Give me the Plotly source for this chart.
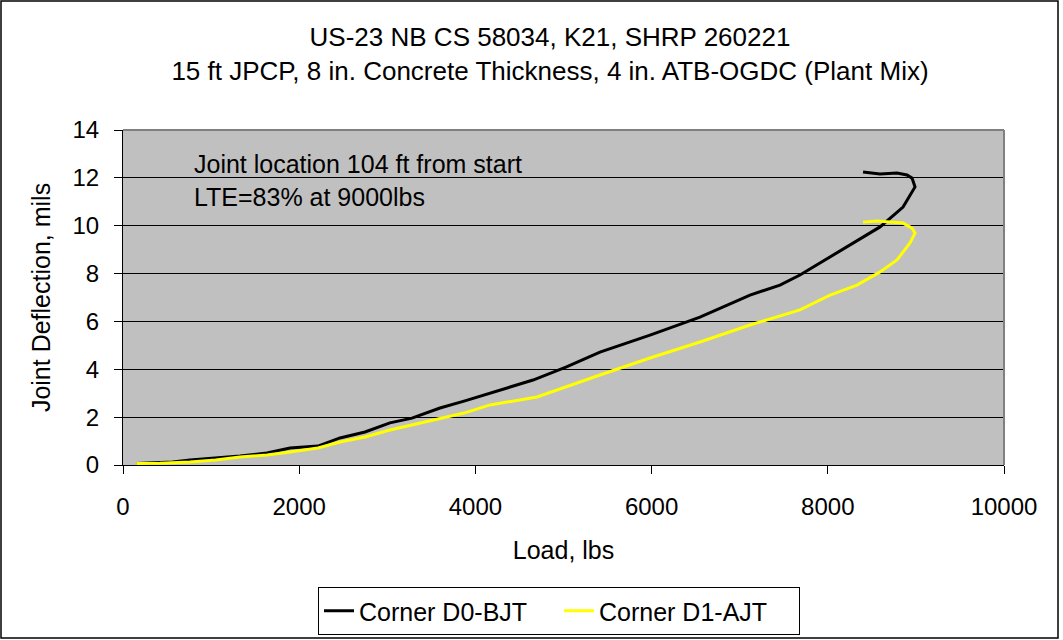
import plotly.graph_objects as go

load_d0 = [150, 420, 564, 760, 1050, 1328, 1634, 1896, 2213, 2463, 2747, 3030, 3280, 3598,
           3871, 4166, 4279, 4654, 5034, 5414, 5982, 6549, 7117, 7457, 7684, 7832, 8218,
           8593, 8854, 8956, 8990, 8956, 8899, 8785, 8593, 8400]
defl_d0 = [0.06, 0.10, 0.13, 0.21, 0.29, 0.38, 0.50, 0.71, 0.79, 1.13, 1.38, 1.76, 1.96, 2.38,
           2.67, 3.01, 3.13, 3.55, 4.10, 4.72, 5.43, 6.18, 7.10, 7.52, 7.94, 8.27, 9.11,
           9.95, 10.78, 11.37, 11.62, 11.99, 12.12, 12.20, 12.16, 12.24]

load_d1 = [150, 420, 760, 1050, 1328, 1634, 1896, 2213, 2463, 2747, 3030, 3280, 3598, 3871,
           4166, 4699, 5414, 5982, 6549, 7117, 7684, 8025, 8331, 8593, 8785, 8933, 8990,
           8956, 8854, 8706, 8558, 8400]
defl_d1 = [0.06, 0.07, 0.13, 0.21, 0.33, 0.42, 0.54, 0.71, 0.96, 1.17, 1.46, 1.67, 1.92, 2.17,
           2.51, 2.84, 3.76, 4.47, 5.14, 5.85, 6.48, 7.10, 7.52, 8.07, 8.57, 9.28, 9.69,
           9.90, 10.11, 10.15, 10.20, 10.15]

x_ticks = [0, 2000, 4000, 6000, 8000, 10000]
y_ticks = [0, 2, 4, 6, 8, 10, 12, 14]

FONT = "Arial, Liberation Sans, sans-serif"
W, H = 1063, 640
ML, MR, MT, MB = 123, 59, 130, 175
pw, ph = W - ML - MR, H - MT - MB


def px_x(x):
    return (x - ML) / pw


def px_y(y):
    return (H - MB - y) / ph


fig = go.Figure()
fig.add_trace(go.Scatter(x=load_d0, y=defl_d0, mode="lines", name="Corner D0-BJT",
                         line=dict(color="black", width=3)))
fig.add_trace(go.Scatter(x=load_d1, y=defl_d1, mode="lines", name="Corner D1-AJT",
                         line=dict(color="#FFFF00", width=3)))

fig.update_layout(
    width=W, height=H,
    margin=dict(l=ML, r=MR, t=MT, b=MB, autoexpand=False),
    paper_bgcolor="white", plot_bgcolor="#C0C0C0",
    font=dict(family=FONT, size=25, color="black"),
    title=dict(text="US-23 NB CS 58034, K21, SHRP 260221<br>15 ft JPCP, 8 in. Concrete Thickness, 4 in. ATB-OGDC (Plant Mix)",
               x=550 / W, xanchor="center", y=0.928, yanchor="top",
               font=dict(family=FONT, size=26)),
    showlegend=True,
    legend=dict(orientation="h", x=px_x(318), xanchor="left", y=px_y(587), yanchor="top",
                bordercolor="black", borderwidth=1, bgcolor="white",
                font=dict(family=FONT, size=25), entrywidth=195, tracegroupgap=0),
)
fig.update_xaxes(range=[0, 10000], tickvals=x_ticks, ticktext=[str(v) for v in x_ticks],
                 showgrid=False, zeroline=False, showline=True, linecolor="black", linewidth=1,
                 ticks="outside", ticklen=8, tickcolor="black", ticklabelstandoff=12,
                 automargin=False,
                 title=dict(text="Load, lbs", standoff=22, font=dict(family=FONT, size=25)),
                 tickfont=dict(family=FONT, size=24))
fig.update_yaxes(range=[0, 14], tickvals=y_ticks,
                 showgrid=True, gridcolor="black", gridwidth=1, zeroline=False,
                 showline=True, linecolor="black", linewidth=1,
                 ticks="outside", ticklen=8, tickcolor="black", ticklabelstandoff=10,
                 automargin=False,
                 title=dict(text="Joint Deflection, mils", standoff=14, font=dict(family=FONT, size=25)),
                 tickfont=dict(family=FONT, size=24))

# plot area border (grey) on top and right
fig.add_shape(type="line", xref="paper", yref="paper", x0=0, y0=1, x1=1, y1=1,
              line=dict(color="#808080", width=2))
fig.add_shape(type="line", xref="paper", yref="paper", x0=1, y0=0, x1=1, y1=1,
              line=dict(color="#808080", width=2))
# outer chart border
fig.add_shape(type="rect", xref="paper", yref="paper",
              x0=px_x(1), x1=px_x(1058), y0=px_y(638), y1=px_y(1),
              line=dict(color="black", width=1.5))

fig.add_annotation(text="Joint location 104 ft from start<br>LTE=83% at 9000lbs",
                   xref="paper", yref="paper", x=px_x(192), y=px_y(148),
                   xanchor="left", yanchor="top", align="left", showarrow=False,
                   font=dict(family=FONT, size=25))

fig.write_html("out.html")
